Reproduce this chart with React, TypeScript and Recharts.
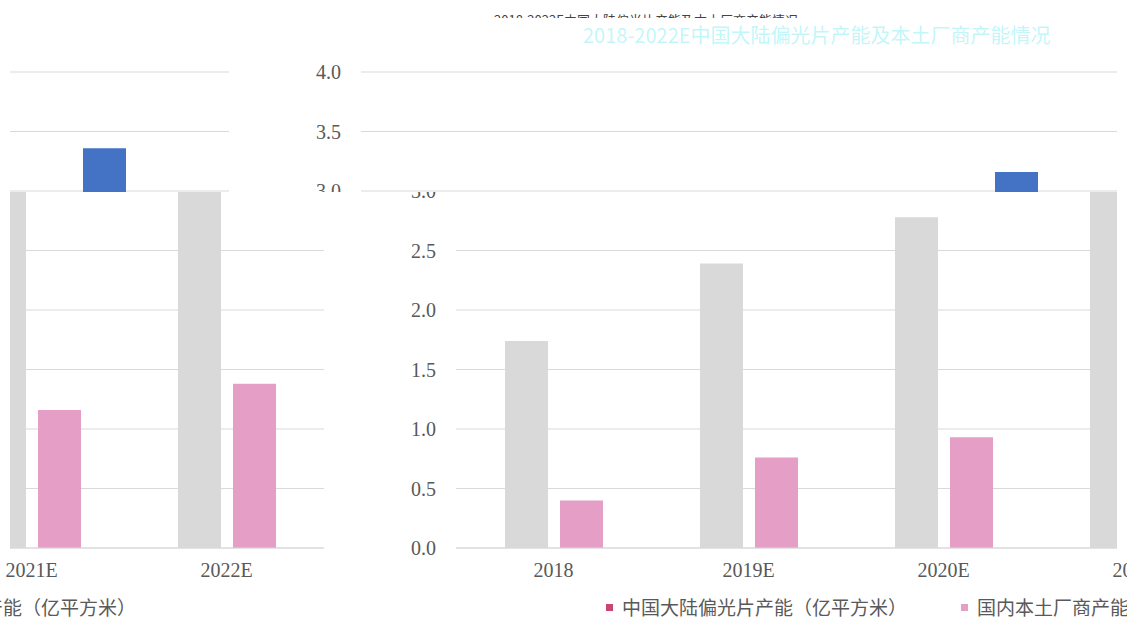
import { Bar, BarChart, CartesianGrid, Cell, Legend, XAxis, YAxis } from "recharts";

const years = ["2018", "2019E", "2020E", "2021E", "2022E"];
const mainlandCapacity = [1.74, 2.39, 2.78, 3.16, 3.36];
const localCapacity = [0.4, 0.76, 0.93, 1.16, 1.38];
const yTicks = [0, 0.5, 1, 1.5, 2, 2.5, 3, 3.5, 4];
const seriesNames = ["中国大陆偏光片产能（亿平方米）", "国内本土厂商产能（亿平方米）"];
const titleText = "2018-2022E中国大陆偏光片产能及本土厂商产能情况";

const data = years.map((year, i) => ({
  year,
  mainland: mainlandCapacity[i],
  local: localCapacity[i],
}));

// the picture is a wrapped / torn screenshot: same chart shown in offset strips
const CHART_W = 1450;
const CHART_H = 631;
const WRAP = 1107;
const TOP_SHIFT = 95;
const SPLIT_Y = 192;

const serif = "'Liberation Serif', 'Times New Roman', serif";
const sans = "'Noto Sans CJK SC', 'Noto Sans', sans-serif";
const textGrey = "#595959";

function LegendRow({ payload }: any) {
  return (
    <div
      style={{
        display: "flex",
        alignItems: "center",
        fontFamily: sans,
        fontSize: 19,
        color: textGrey,
        whiteSpace: "nowrap",
        lineHeight: "24px",
      }}
    >
      {(payload || []).map((entry: any) => (
        <div key={entry.value} style={{ display: "flex", alignItems: "center", marginRight: 54 }}>
          <span style={{ width: 7, height: 7, background: entry.color, marginRight: 9 }} />
          <span>{entry.value}</span>
        </div>
      ))}
    </div>
  );
}

function CapacityChart({ firstColor }: { firstColor: string }) {
  return (
    <BarChart
      width={CHART_W}
      height={CHART_H}
      data={data}
      margin={{ top: 72, right: 19, bottom: 53, left: 356 }}
      barSize={43}
      barGap={12}
    >
      <CartesianGrid vertical={false} stroke="#D9D9D9" />
      <XAxis
        dataKey="year"
        height={30}
        tickLine={false}
        axisLine={{ stroke: "#D9D9D9" }}
        tickMargin={9}
        tick={{ fill: textGrey, fontSize: 20, fontFamily: serif }}
      />
      <YAxis
        width={100}
        domain={[0, 4]}
        ticks={yTicks}
        tickFormatter={(v: number) => v.toFixed(1)}
        tickLine={false}
        axisLine={false}
        tickMargin={14}
        tick={{ fill: textGrey, fontSize: 20, fontFamily: serif }}
      />
      <Legend
        verticalAlign="middle"
        align="center"
        layout="horizontal"
        content={LegendRow}
        wrapperStyle={{ left: 606, top: 595, width: 800 }}
      />
      <Bar dataKey="mainland" name={seriesNames[0]} fill="#C9466F" isAnimationActive={false}>
        {data.map((d) => (
          <Cell key={d.year} fill={firstColor} />
        ))}
      </Bar>
      <Bar dataKey="local" name={seriesNames[1]} fill="#E59EC5" isAnimationActive={false} />
    </BarChart>
  );
}

const layer = (left: number, top: number) =>
  ({ position: "absolute", left, top } as const);

export default function App() {
  return (
    <div
      style={{
        position: "absolute",
        left: 0,
        top: 0,
        width: 1127,
        height: 631,
        overflow: "hidden",
        background: "#ffffff",
      }}
    >
      {/* lower strip */}
      <div style={{ position: "absolute", left: 0, top: SPLIT_Y, width: 1127, height: CHART_H - SPLIT_Y, overflow: "hidden" }}>
        <div style={layer(0, -SPLIT_Y)}>
          <CapacityChart firstColor="#D9D9D9" />
        </div>
        <div style={layer(-WRAP, -SPLIT_Y)}>
          <CapacityChart firstColor="#D9D9D9" />
        </div>
      </div>

      {/* upper strip, shifted left and recoloured */}
      <div style={{ position: "absolute", left: 0, top: 0, width: 1127, height: SPLIT_Y, overflow: "hidden" }}>
        <div style={layer(-TOP_SHIFT, 0)}>
          <CapacityChart firstColor="#4472C4" />
        </div>
        <div style={layer(-TOP_SHIFT - WRAP, 0)}>
          <CapacityChart firstColor="#4472C4" />
        </div>
        <div style={{ position: "absolute", left: 494, top: 14, height: 4, overflow: "hidden" }}>
          <div style={{ fontFamily: sans, fontSize: 13, lineHeight: "13px", color: "#444", whiteSpace: "nowrap", marginTop: -1 }}>
            {titleText}
          </div>
        </div>
        <div
          style={{
            position: "absolute",
            left: 583,
            top: 22,
            fontFamily: sans,
            fontSize: 20,
            lineHeight: "26px",
            color: "rgba(40, 225, 235, 0.3)",
            whiteSpace: "nowrap",
          }}
        >
          {titleText}
        </div>
      </div>

      {/* edge masks of the torn picture */}
      <div style={{ position: "absolute", left: 0, top: 0, width: 10, height: 552, background: "#ffffff" }} />
      <div style={{ position: "absolute", left: 1117, top: 0, width: 10, height: 552, background: "#ffffff" }} />
    </div>
  );
}
